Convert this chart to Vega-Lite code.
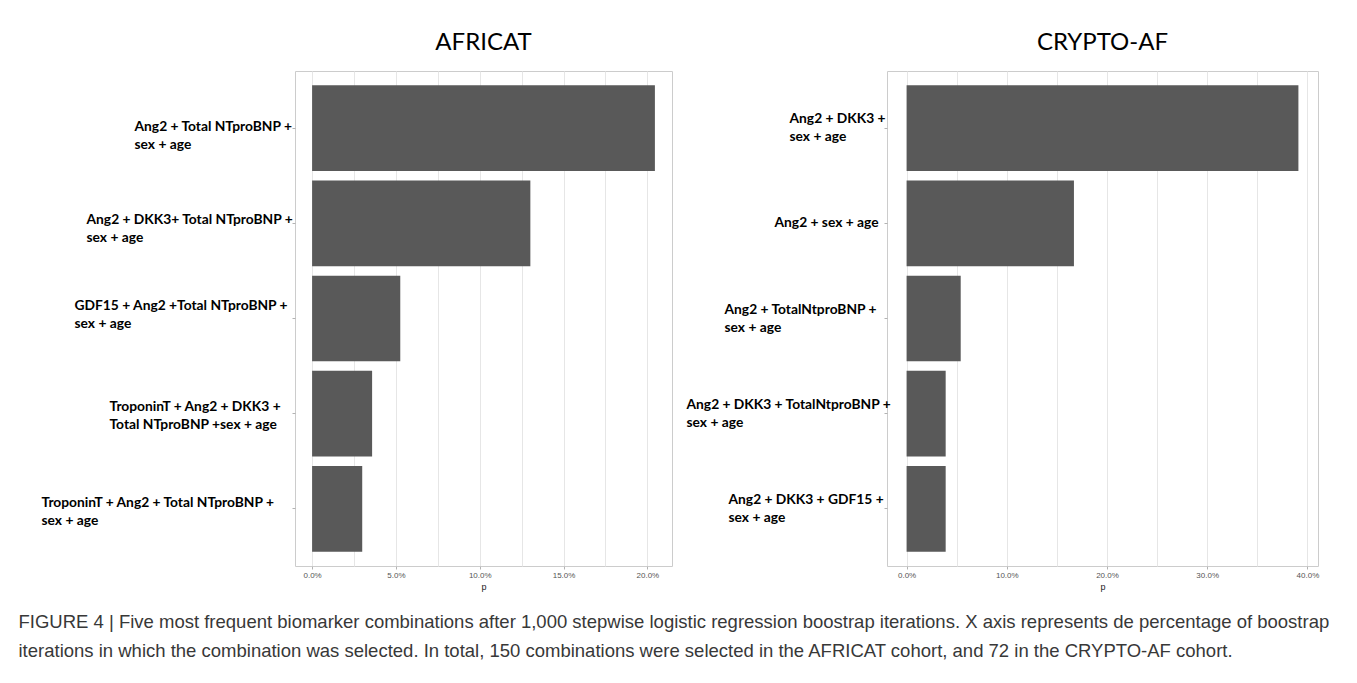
{
  "$schema": "https://vega.github.io/schema/vega-lite/v6.json",
  "background": "white",
  "padding": {"left": 0, "top": 30, "right": 0, "bottom": 0},
  "spacing": 0,
  "config": {
    "view": {"stroke": "#CCCCCC", "strokeWidth": 1},
    "title": {"font": "Lato", "fontSize": 24, "fontWeight": "normal", "color": "#000000", "anchor": "middle", "offset": 16},
    "axisX": {
      "domain": false, "tickColor": "#B3B3B3", "tickSize": 3,
      "labelFont": "Liberation Sans", "labelFontSize": 8, "labelColor": "#555555", "labelPadding": 2,
      "labelFlush": false, "labelOverlap": false,
      "titleFont": "Liberation Sans", "titleFontSize": 9, "titleFontWeight": "normal", "titleColor": "#222222", "titlePadding": 3,
      "gridColor": "#E6E6E6", "gridWidth": 1
    },
    "axisY": {
      "domain": false, "tickColor": "#B3B3B3", "tickSize": 3,
      "labelFont": "Lato", "labelFontWeight": "bold", "labelFontSize": 13.8, "labelColor": "#000000",
      "labelLineHeight": 18, "labelLimit": 400, "labelBaseline": "middle", "labelAlign": "left",
      "gridColor": "#E6E6E6", "gridWidth": 1
    }
  },
  "datasets": {
    "africat": [
      {"combination": "Ang2 + Total NTproBNP +\n sex + age", "p": 0.2045},
      {"combination": "Ang2 + DKK3+ Total NTproBNP +\nsex + age", "p": 0.1302},
      {"combination": "GDF15 + Ang2 +Total NTproBNP +\nsex + age", "p": 0.0526},
      {"combination": "TroponinT + Ang2 + DKK3 +\nTotal NTproBNP +sex + age", "p": 0.0358},
      {"combination": "TroponinT + Ang2 + Total NTproBNP +\nsex + age", "p": 0.0299}
    ],
    "crypto": [
      {"combination": "Ang2 + DKK3 +\nsex + age", "p": 0.391},
      {"combination": "Ang2 + sex + age", "p": 0.167},
      {"combination": "Ang2 + TotalNtproBNP +\n sex + age", "p": 0.054},
      {"combination": "Ang2 + DKK3 + TotalNtproBNP +\n sex + age", "p": 0.039},
      {"combination": "Ang2 + DKK3 + GDF15 +\n sex + age", "p": 0.039}
    ]
  },
  "title": {
    "text": [
      "FIGURE 4 | Five most frequent biomarker combinations after 1,000 stepwise logistic regression boostrap iterations. X axis represents de percentage of boostrap",
      "iterations in which the combination was selected. In total, 150 combinations were selected in the AFRICAT cohort, and 72 in the CRYPTO-AF cohort."
    ],
    "orient": "bottom", "anchor": "start", "dx": 18, "offset": 21,
    "font": "'Liberation Sans Narrow', 'Liberation Sans'", "fontSize": 18.5, "fontWeight": "normal", "color": "#383838",
    "lineHeight": 29
  },
  "hconcat": [
    {
      "width": 377, "height": 495,
      "title": "AFRICAT",
      "data": {"name": "africat"},
      "mark": {"type": "bar", "color": "#595959"},
      "encoding": {
        "y": {
          "field": "combination", "type": "nominal", "sort": null,
          "scale": {"paddingInner": 0.1, "paddingOuter": 0.15},
          "axis": {
            "title": null, "labelExpr": "split(datum.label, '\\n')", "minExtent": 294, "maxExtent": 294,
            "labelPadding": {
              "condition": [
                {"test": "indexof(datum.value, 'Ang2 + Total') == 0", "value": 158},
                {"test": "indexof(datum.value, 'DKK3+') >= 0", "value": 206},
                {"test": "indexof(datum.value, 'GDF15') == 0", "value": 218},
                {"test": "indexof(datum.value, 'TroponinT + Ang2 + DKK3') == 0", "value": 183}
              ],
              "value": 251
            },
            "labelOffset": {
              "condition": [
                {"test": "indexof(datum.value, 'Ang2 + Total') == 0", "value": -1},
                {"test": "indexof(datum.value, 'DKK3+') >= 0", "value": -3},
                {"test": "indexof(datum.value, 'GDF15') == 0", "value": -13},
                {"test": "indexof(datum.value, 'TroponinT + Ang2 + DKK3') == 0", "value": -7}
              ],
              "value": -6
            }
          }
        },
        "x": {
          "field": "p", "type": "quantitative",
          "scale": {"domain": [-0.0102, 0.2147], "nice": false, "zero": false},
          "axis": {
            "title": "p", "format": ".1%",
            "values": [0, 0.025, 0.05, 0.075, 0.1, 0.125, 0.15, 0.175, 0.2],
            "labelExpr": "round(datum.value*1000) % 50 == 0 ? datum.label : ''",
            "tickSize": {"condition": {"test": "round(datum.value*1000) % 50 != 0", "value": 0}, "value": 3}
          }
        }
      }
    },
    {
      "width": 431, "height": 495,
      "title": "CRYPTO-AF",
      "data": {"name": "crypto"},
      "mark": {"type": "bar", "color": "#595959"},
      "encoding": {
        "y": {
          "field": "combination", "type": "nominal", "sort": null,
          "scale": {"paddingInner": 0.1, "paddingOuter": 0.15},
          "axis": {
            "title": null, "labelExpr": "split(datum.label, '\\n')", "minExtent": 213, "maxExtent": 213,
            "labelPadding": {
              "condition": [
                {"test": "indexof(datum.value, 'DKK3 +\\nsex') >= 0", "value": 95},
                {"test": "datum.value == 'Ang2 + sex + age'", "value": 110},
                {"test": "indexof(datum.value, 'Ang2 + TotalNtproBNP') == 0", "value": 160},
                {"test": "indexof(datum.value, 'DKK3 + TotalNtproBNP') >= 0", "value": 198}
              ],
              "value": 156
            },
            "labelOffset": {
              "condition": [
                {"test": "datum.value == 'Ang2 + sex + age'", "value": 0}
              ],
              "value": -9
            }
          }
        },
        "x": {
          "field": "p", "type": "quantitative",
          "scale": {"domain": [-0.01955, 0.41055], "nice": false, "zero": false},
          "axis": {
            "title": "p", "format": ".1%",
            "values": [0, 0.05, 0.1, 0.15, 0.2, 0.25, 0.3, 0.35, 0.4],
            "labelExpr": "round(datum.value*100) % 10 == 0 ? datum.label : ''",
            "tickSize": {"condition": {"test": "round(datum.value*100) % 10 != 0", "value": 0}, "value": 3}
          }
        }
      }
    }
  ]
}
